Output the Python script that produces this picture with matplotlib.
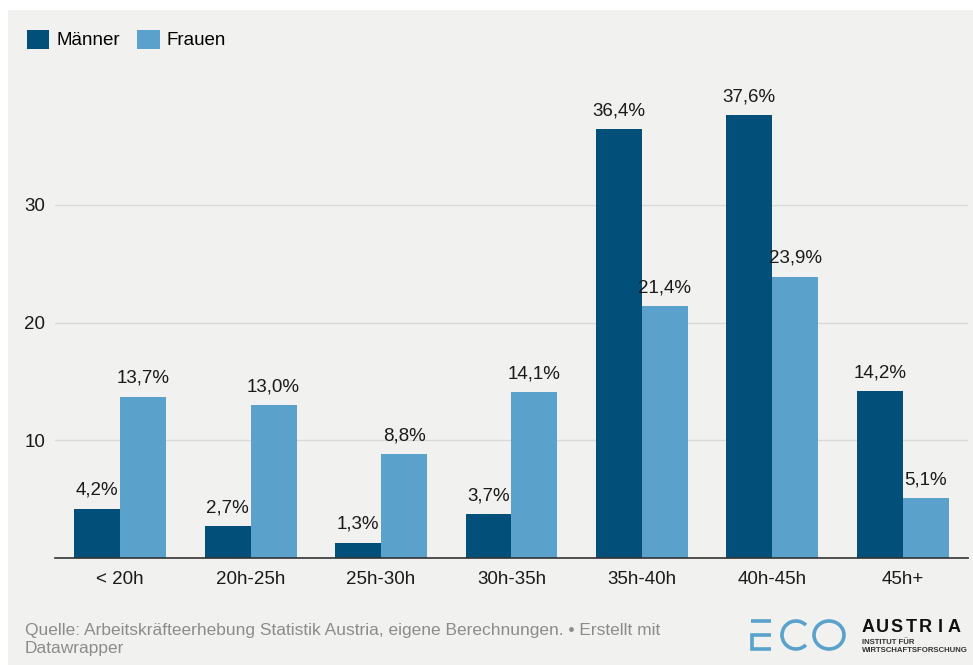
import matplotlib
matplotlib.use("Agg")
import matplotlib.pyplot as plt
from matplotlib.patches import Rectangle, Arc
from matplotlib.lines import Line2D
import numpy as np

plt.rcParams['font.family'] = ['Liberation Sans', 'DejaVu Sans']

# Wochenarbeitszeit nach Geschlecht (Anteile in %)
categories = ['< 20h', '20h-25h', '25h-30h', '30h-35h', '35h-40h', '40h-45h', '45h+']
maenner = [4.2, 2.7, 1.3, 3.7, 36.4, 37.6, 14.2]
frauen = [13.7, 13.0, 8.8, 14.1, 21.4, 23.9, 5.1]
series_names = ['Männer', 'Frauen']
y_ticks = [10, 20, 30]

C_M = '#02507a'
C_F = '#5aa2cb'
BG = '#f1f1f0'
TXT = '#1a1a1a'

W, H = 973, 665
fig = plt.figure(figsize=(W / 100, H / 100), dpi=100, facecolor='white')

# grey panel with a thin white frame at top and left
fig.patches.append(Rectangle((8 / W, 0), 1 - 8 / W, 1 - 10 / H,
                             transform=fig.transFigure, facecolor=BG,
                             edgecolor='none', zorder=-10))

ax = fig.add_axes([55 / W, 1 - 558 / H, 913 / W, (558 - 87) / H])
ax.patch.set_alpha(0)

x = np.arange(len(categories))
bw = 0.352
bars_m = ax.bar(x - bw / 2, maenner, bw, color=C_M, label=series_names[0], zorder=3)
bars_f = ax.bar(x + bw / 2, frauen, bw, color=C_F, label=series_names[1], zorder=3)

for bars, vals in ((bars_m, maenner), (bars_f, frauen)):
    for b, v in zip(bars, vals):
        ax.annotate(f'{v:.1f}%'.replace('.', ','),
                    (b.get_x() + b.get_width() / 2, v),
                    xytext=(0, 7), textcoords='offset points',
                    ha='center', va='bottom', fontsize=13.5, color=TXT)

ax.set_xlim(-0.5, len(categories) - 0.5)
ax.set_ylim(0, 40)
ax.set_xticks(x)
ax.set_xticklabels(categories, fontsize=13.5, color=TXT)
ax.set_yticks(y_ticks)
ax.set_yticklabels([str(t) for t in y_ticks], fontsize=13.5, color=TXT)
ax.tick_params(axis='both', length=0)
ax.tick_params(axis='x', pad=9)
ax.tick_params(axis='y', pad=7)
ax.yaxis.grid(True, color='#d9d9d9', linewidth=1, zorder=0)
for s in ('top', 'right', 'left'):
    ax.spines[s].set_visible(False)
ax.spines['bottom'].set_color('#333333')
ax.spines['bottom'].set_linewidth(1.2)
ax.spines['bottom'].set_zorder(4)

fig.legend(handles=[bars_m, bars_f], labels=series_names,
           loc='upper left', bbox_to_anchor=(19 / W, 1 - 22 / H),
           ncol=2, frameon=False, fontsize=13.5,
           handlelength=1.2, handleheight=1.2, handletextpad=0.4,
           columnspacing=0.9, borderaxespad=0)

fig.text(25 / W, 1 - 630 / H,
         'Quelle: Arbeitskräfteerhebung Statistik Austria, eigene Berechnungen. • Erstellt mit',
         fontsize=12.5, color='#8c8c8c', va='center', ha='left')
fig.text(25 / W, 1 - 648 / H, 'Datawrapper',
         fontsize=12.5, color='#8c8c8c', va='center', ha='left')

# ECO Austria logo
lax = fig.add_axes([0, 0, 1, 1], facecolor='none')
lax.set_xlim(0, W)
lax.set_ylim(H, 0)
lax.axis('off')
lc = C_F
lw = 2.6
lax.add_line(Line2D([751, 771], [621, 621], color=lc, lw=lw, solid_capstyle='butt'))
lax.add_line(Line2D([771, 752.3, 752.3, 771], [635, 635, 649, 649], color=lc, lw=lw,
                    solid_capstyle='butt', solid_joinstyle='miter'))
lax.add_patch(Arc((796, 635), 28, 28, theta1=45, theta2=315, color=lc, lw=lw))
lax.add_patch(Arc((829, 635), 30, 28, color=lc, lw=lw))
for i, ch in enumerate('AUSTRIA'):
    lax.text(868 + i * 14.4, 628, ch, fontsize=13, fontweight='bold',
             color='#111111', va='center', ha='center')
lax.text(862, 643, 'INSTITUT FÜR', fontsize=5.6, fontweight='bold',
         color='#333333', va='center', ha='left')
lax.text(862, 651, 'WIRTSCHAFTSFORSCHUNG', fontsize=5.6, fontweight='bold',
         color='#333333', va='center', ha='left')

fig.savefig('out.png', dpi=100, facecolor='white')
